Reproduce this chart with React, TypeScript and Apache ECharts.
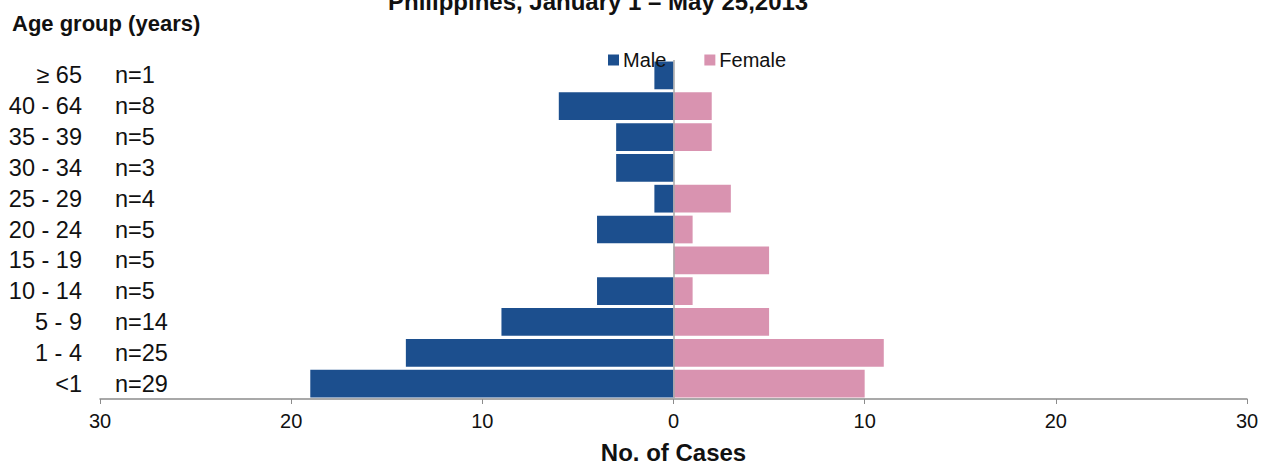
import React, { useEffect, useRef } from "react";
import * as echarts from "echarts";

const ageGroups = ["<1", "1 - 4", "5 - 9", "10 - 14", "15 - 19", "20 - 24", "25 - 29", "30 - 34", "35 - 39", "40 - 64", "≥ 65"];
const maleCases = [19, 14, 9, 4, 0, 4, 1, 3, 3, 6, 1];
const femaleCases = [10, 11, 5, 1, 5, 1, 3, 0, 2, 2, 0];
const xTicks = { min: -30, max: 30, interval: 10 };
const titleText = "Philippines, January 1 – May 25,2013";

const FONT = "'Liberation Sans', Arial, Helvetica, sans-serif";

export default function App() {
  const ref = useRef<HTMLDivElement>(null);

  useEffect(() => {
    if (!ref.current) return;
    const chart = echarts.init(ref.current, undefined, { renderer: "svg" });
    const nLabels = maleCases.map((m, i) => `n=${m + femaleCases[i]}`);
    chart.setOption({
      animation: false,
      backgroundColor: "#ffffff",
      textStyle: { fontFamily: FONT },
      title: {
        text: titleText,
        left: 383,
        top: -16,
        textStyle: { fontSize: 24, fontWeight: "bold", color: "#111", fontFamily: FONT },
      },
      graphic: [
        {
          type: "text",
          left: 12,
          top: 12,
          style: { text: "Age group (years)", font: `bold 22px ${FONT}`, fill: "#111" },
        },
      ],
      legend: {
        left: 603,
        top: 45,
        itemWidth: 11,
        itemHeight: 11,
        itemGap: 38,
        icon: "rect",
        textStyle: { fontSize: 20, color: "#111", fontFamily: FONT, padding: [0, 0, 0, -1] },
        data: ["Male", "Female"],
      },
      grid: { left: 100, right: 14, top: 60, bottom: 67, containLabel: false, outerBoundsMode: "none" },
      xAxis: {
        type: "value",
        min: xTicks.min,
        max: xTicks.max,
        interval: xTicks.interval,
        name: "No. of Cases",
        nameLocation: "middle",
        nameGap: 41,
        nameTextStyle: { fontSize: 24, fontWeight: "bold", color: "#111", fontFamily: FONT },
        axisLine: { show: true, lineStyle: { color: "#8c8c8c", width: 1.5 } },
        axisTick: { show: true, length: 5, lineStyle: { color: "#8c8c8c" } },
        axisLabel: {
          fontSize: 20,
          color: "#111",
          margin: 12,
          formatter: (v: number) => String(Math.abs(v)),
        },
        splitLine: { show: false },
      },
      yAxis: [
        {
          type: "category",
          data: ageGroups,
          position: "left",
          axisLine: { show: false },
          axisTick: { show: false },
          axisLabel: { interval: 0, fontSize: 23.5, color: "#111", margin: 18, align: "right" },
        },
        {
          type: "category",
          data: nLabels,
          position: "left",
          axisLine: { show: false },
          axisTick: { show: false },
          axisLabel: { interval: 0, fontSize: 23.5, color: "#111", margin: -15, align: "left" },
        },
      ],
      series: [
        {
          name: "Male",
          type: "bar",
          stack: "pyr",
          yAxisIndex: 0,
          barCategoryGap: "10%",
          itemStyle: { color: "#1c4f8e" },
          data: maleCases.map((v) => -v),
          markLine: {
            silent: true,
            symbol: "none",
            label: { show: false },
            lineStyle: { color: "#a8a8a8", width: 1.5, type: "solid" },
            data: [{ xAxis: 0 }],
          },
        },
        {
          name: "Female",
          type: "bar",
          stack: "pyr",
          yAxisIndex: 0,
          barCategoryGap: "10%",
          itemStyle: { color: "#d993b0" },
          data: femaleCases,
        },
      ],
    });
    return () => chart.dispose();
  }, []);

  return (
    <div
      ref={ref}
      style={{ position: "absolute", left: 0, top: 0, width: 1261, height: 466 }}
    />
  );
}
